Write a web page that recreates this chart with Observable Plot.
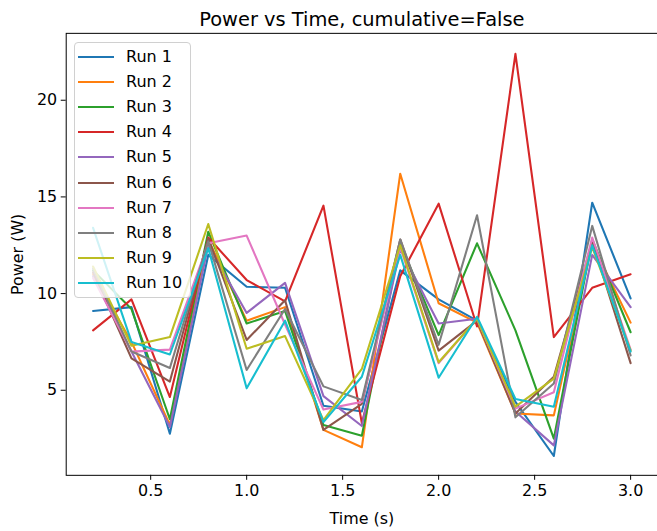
<!DOCTYPE html>
<html><head><meta charset="utf-8">
<script src="https://cdn.jsdelivr.net/npm/d3@7"></script>
<script src="https://cdn.jsdelivr.net/npm/@observablehq/plot@0.6"></script>
<style>
html,body{margin:0;padding:0;background:#fff;overflow:hidden;}
#wrap{position:relative;width:657px;height:531px;overflow:hidden;font-family:"DejaVu Sans",sans-serif;}
#wrap svg{display:block;}
#legend{position:absolute;left:74px;top:42px;width:117px;height:256px;background:rgba(255,255,255,0.8);border:1px solid #d0d0d0;border-radius:4px;box-sizing:border-box;}
.item{position:absolute;left:0;width:115px;height:20px;}
.swatch{position:absolute;left:3px;top:9px;width:36px;height:2.2px;}
.label{position:absolute;left:51px;top:0;line-height:20px;font-size:16px;color:#000;white-space:nowrap;}
</style>
</head><body>
<div id="wrap"></div>
<script>
const title = "Power vs Time, cumulative=False";
const xLabel = "Time (s)";
const yLabel = "Power (W)";
const times = [0.2,0.4,0.6,0.8,1.0,1.2,1.4,1.6,1.8,2.0,2.2,2.4,2.6,2.8,3.0];
const xTicks = [0.5,1.0,1.5,2.0,2.5,3.0];
const yTicks = [5,10,15,20];
const runNames = ["Run 1","Run 2","Run 3","Run 4","Run 5","Run 6","Run 7","Run 8","Run 9","Run 10"];
const colors = ["#1f77b4","#ff7f0e","#2ca02c","#d62728","#9467bd","#8c564b","#e377c2","#7f7f7f","#bcbd22","#17becf"];
const run1  = [9.1, 9.3, 2.75, 12.0, 10.35, 10.3, 4.2, 3.9, 11.2, 9.7, 8.6, 4.4, 1.6, 14.7, 9.75];
const run2  = [11.0, 7.5, 3.2, 12.8, 8.6, 9.3, 2.95, 2.05, 16.2, 9.5, 8.5, 3.8, 3.7, 12.6, 8.5];
const run3  = [11.2, 9.2, 3.5, 13.2, 8.45, 9.1, 3.2, 2.65, 12.6, 7.85, 12.6, 8.1, 2.5, 12.8, 8.0];
const run4  = [8.1, 9.7, 4.65, 12.9, 10.7, 9.6, 14.55, 3.3, 10.9, 14.65, 8.3, 22.4, 7.75, 10.3, 11.0];
const run5  = [10.9, 7.0, 3.1, 12.5, 9.0, 10.55, 4.7, 3.15, 12.3, 8.45, 8.7, 3.9, 2.15, 12.0, 9.3];
const run6  = [11.1, 6.65, 5.45, 12.85, 7.6, 9.65, 2.95, 4.3, 12.8, 7.05, 8.6, 3.8, 5.7, 12.7, 6.4];
const run7  = [10.8, 7.0, 7.1, 12.6, 13.0, 8.4, 4.0, 4.4, 12.4, 6.4, 8.7, 4.05, 4.9, 12.9, 7.1];
const run8  = [11.3, 7.0, 6.15, 12.7, 6.05, 9.2, 5.2, 4.5, 12.8, 7.35, 14.05, 3.6, 5.35, 13.5, 6.8];
const run9  = [11.4, 7.3, 7.75, 13.6, 7.15, 7.8, 3.45, 6.1, 12.5, 6.45, 8.7, 4.15, 5.6, 12.4, 7.05];
const run10 = [13.4, 7.5, 6.85, 12.35, 5.1, 8.6, 3.35, 5.7, 12.0, 5.65, 8.8, 4.55, 4.15, 12.5, 7.0];
const runs = [run1, run2, run3, run4, run5, run6, run7, run8, run9, run10];

const data = [];
runs.forEach((vals, i) => vals.forEach((v, j) => data.push({time: times[j], power: v, run: runNames[i]})));

const chart = Plot.plot({
  width: 660, height: 531,
  marginLeft: 66, marginRight: 0, marginTop: 33, marginBottom: 54,
  x: {domain: [0.06, 3.14]},
  y: {domain: [0.6, 23.46]},
  color: {domain: runNames, range: colors},
  style: {fontFamily: "DejaVu Sans, sans-serif", fontSize: "16px", color: "#000", background: "#fff"},
  marks: [
    Plot.axisX({ticks: xTicks, tickFormat: d3.format(".1f"), tickSize: 5, tickPadding: 4, label: xLabel, labelArrow: "none", labelAnchor: "center", labelOffset: 49, fontSize: 16}),
    Plot.axisY({ticks: yTicks, tickSize: 5, tickPadding: 4, label: yLabel, labelArrow: "none", labelAnchor: "center", labelOffset: 55, fontSize: 16}),
    Plot.line(data, {x: "time", y: "power", stroke: "run", strokeWidth: 2.1}),
    Plot.frame({stroke: "#000", strokeWidth: 1}),
    Plot.text([title], {frameAnchor: "top", dy: -21, fontSize: 19.5, text: d => d})
  ]
});
const wrap = document.getElementById("wrap");
wrap.appendChild(chart);

const legend = document.createElement("div");
legend.id = "legend";
runNames.forEach((name, i) => {
  const item = document.createElement("div");
  item.className = "item";
  item.style.top = (3.5 + i * 25.2) + "px";
  const sw = document.createElement("div");
  sw.className = "swatch";
  sw.style.background = colors[i];
  const lb = document.createElement("div");
  lb.className = "label";
  lb.textContent = name;
  item.appendChild(sw); item.appendChild(lb);
  legend.appendChild(item);
});
wrap.appendChild(legend);
</script>
</body></html>
